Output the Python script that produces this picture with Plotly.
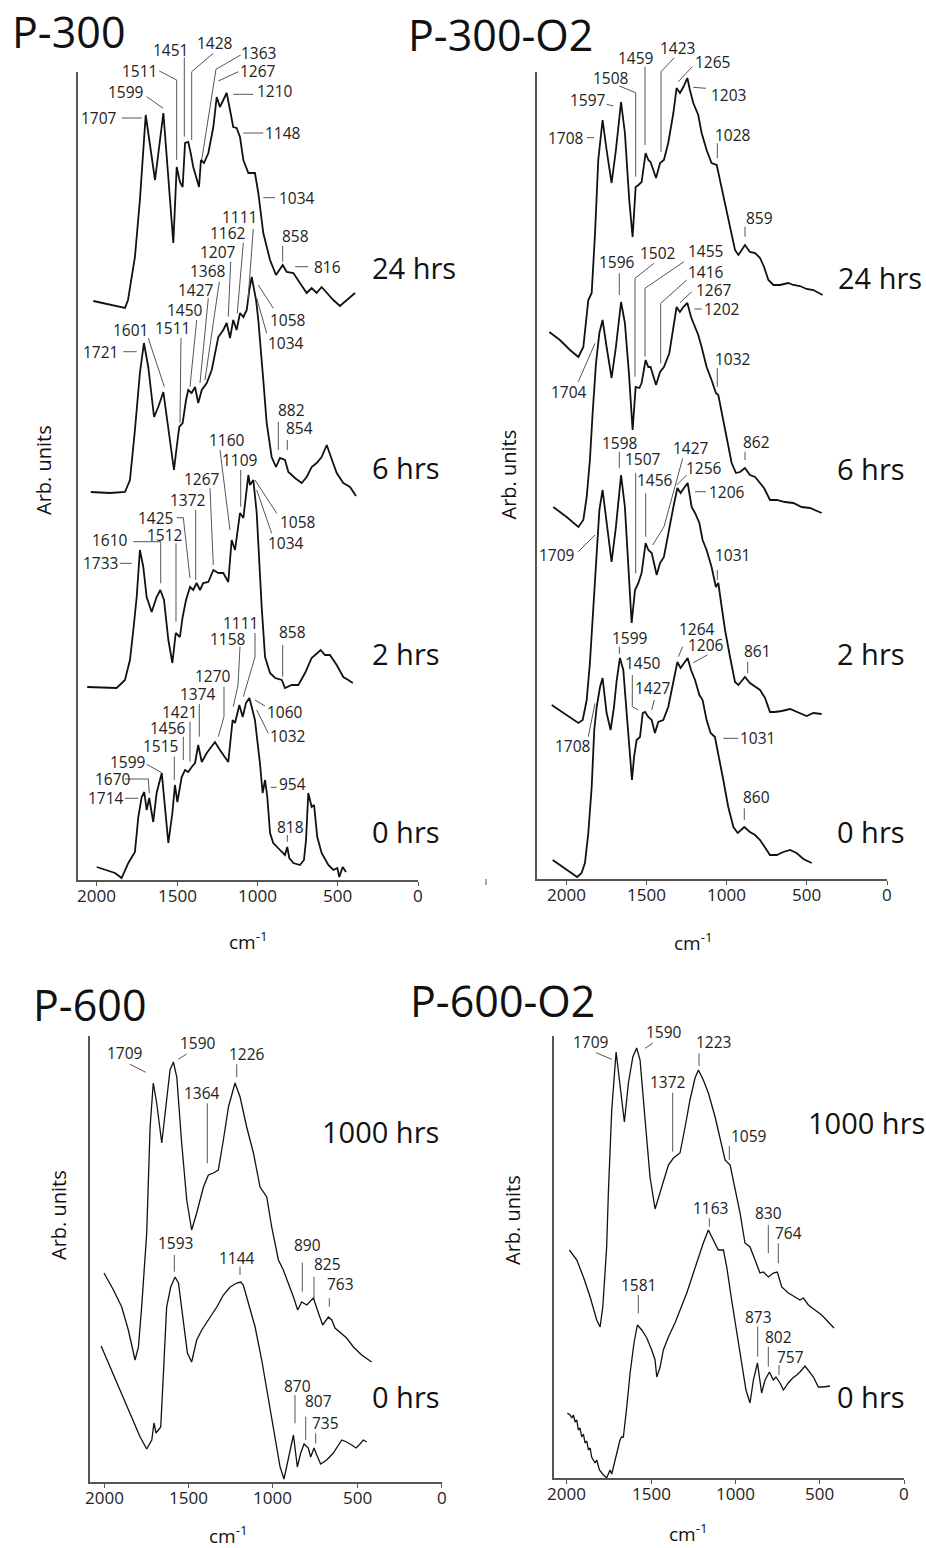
import plotly.graph_objects as go

W, H = 926, 1548
FONT = "Open Sans"

# ---------------- data (wavenumber cm-1, arbitrary units) ----------------
P300_24_WN = [2021,1824,1805,1762,1731,1695,1637,1585,1523,1502,1482,1465,1450,1430,1415,1399,1363,1351,1332,1305,1274,1253,1233,1212,1191,1170,1150,1129,1108,1087,1056,1015,994,963,921,884,842,817,776,735,693,662,631,600,573,527,486,444,392]
P300_24_Y = [579,572,580,623,680,765,700,767,637,713,698,693,737,738,727,713,693,720,717,727,753,783,773,780,787,770,753,752,743,720,707,707,687,647,620,605,615,608,607,597,587,592,587,593,588,580,574,580,587]

P300_6_WN = [2037,1917,1824,1793,1762,1731,1706,1679,1643,1617,1585,1554,1519,1502,1486,1465,1444,1430,1409,1388,1368,1346,1315,1284,1243,1212,1191,1170,1150,1129,1108,1087,1066,1050,1035,1008,994,963,942,911,884,859,828,807,766,724,693,662,631,600,568,542,506,465,423,386]
P300_6_Y = [388,387,388,400,450,507,537,513,463,473,488,453,410,433,453,457,480,490,487,493,477,490,497,510,543,550,557,542,560,550,567,563,570,590,603,580,560,500,457,423,413,422,420,408,402,397,403,413,417,423,435,423,407,397,393,384]

P300_2_WN = [2059,1876,1824,1793,1772,1751,1731,1710,1689,1658,1627,1604,1581,1554,1529,1508,1482,1465,1444,1419,1399,1378,1357,1337,1305,1274,1243,1212,1181,1160,1139,1108,1087,1056,1046,1025,1004,984,973,952,921,890,848,828,786,745,703,662,631,606,579,548,506,465,434,406]
P300_2_Y = [193,192,200,220,250,283,330,313,283,268,283,290,280,240,217,247,243,263,280,293,290,297,290,297,298,310,307,307,298,340,330,367,362,405,395,400,367,300,273,223,207,202,200,192,195,195,207,222,227,230,225,225,215,203,200,197]

P300_0_WN = [2000,1938,1886,1845,1824,1803,1762,1741,1720,1704,1689,1673,1648,1627,1595,1575,1554,1529,1513,1498,1471,1450,1430,1409,1388,1368,1346,1315,1264,1233,1181,1154,1139,1112,1091,1071,1050,1035,1015,984,967,952,938,921,901,859,828,814,801,776,735,710,697,683,662,647,627,600,558,527,502,490,469,448]
P300_0_Y = [13,10,7,2,10,17,28,63,83,88,70,82,58,87,107,73,37,67,95,78,103,110,108,113,117,135,118,127,138,130,118,160,157,175,163,177,182,173,160,117,87,100,83,47,37,30,25,33,22,17,15,20,40,87,73,75,43,27,15,10,12,3,13,8]

O2_24_WN = [2104,2038,1975,1923,1892,1861,1840,1819,1799,1772,1747,1716,1689,1657,1633,1606,1585,1566,1549,1529,1504,1487,1473,1439,1414,1390,1363,1331,1311,1290,1269,1244,1228,1207,1176,1155,1124,1093,1061,1041,1009,978,947,926,885,854,822,791,766,739,708,667,615,584,542,501,459,401]
O2_24_Y = [547,539,529,522,532,579,586,646,719,759,729,696,729,777,746,679,642,692,694,697,726,719,717,701,716,719,736,766,791,786,792,801,789,776,764,746,729,716,714,699,672,652,629,624,634,627,626,621,612,599,594,594,596,594,593,590,589,584]

O2_6_WN = [2079,1996,1923,1892,1871,1851,1834,1813,1792,1772,1747,1716,1689,1657,1633,1608,1585,1566,1543,1529,1504,1487,1473,1439,1414,1390,1356,1331,1311,1290,1269,1244,1221,1196,1176,1155,1124,1093,1066,1051,1030,999,968,941,916,885,854,822,791,766,729,687,636,584,532,480,407]
O2_6_Y = [372,362,352,359,382,419,466,516,546,559,532,501,532,577,556,506,449,492,491,496,519,512,512,494,507,512,526,552,572,567,572,576,562,552,544,532,512,499,486,484,466,439,416,406,407,411,404,402,396,391,379,379,377,376,372,371,366]

O2_2_WN = [2089,1975,1923,1896,1871,1851,1834,1819,1809,1792,1772,1747,1716,1689,1657,1633,1612,1591,1570,1549,1529,1504,1487,1466,1435,1414,1390,1363,1331,1306,1286,1265,1242,1217,1196,1169,1149,1124,1093,1066,1051,1030,1009,978,947,926,885,854,822,791,760,729,698,656,604,563,501,459,407]
O2_2_Y = [174,162,156,159,179,216,259,299,326,369,389,359,317,352,404,372,316,256,289,296,306,336,329,326,304,316,322,346,372,391,386,391,396,372,366,356,339,329,312,292,296,272,249,222,197,194,202,196,192,189,181,167,167,168,170,167,163,166,165]

O2_0_WN = [2083,2017,1965,1930,1903,1882,1861,1840,1824,1809,1788,1772,1747,1722,1701,1684,1664,1643,1622,1606,1589,1576,1560,1539,1522,1508,1487,1466,1446,1425,1394,1363,1331,1306,1286,1265,1242,1221,1196,1169,1149,1124,1099,1072,1051,1020,989,957,930,889,854,822,791,760,729,687,646,604,563,521,469]
O2_0_Y = [19,12,6,2,6,16,46,92,149,172,192,201,166,149,172,199,221,209,166,132,99,122,139,142,166,167,162,159,146,157,159,172,199,217,211,216,221,209,199,184,179,159,146,142,126,99,72,52,46,52,47,44,39,32,24,24,27,29,26,20,16]

P600_1000_WN = [2000,1944,1895,1856,1816,1796,1777,1757,1747,1727,1708,1688,1658,1629,1609,1589,1569,1540,1510,1481,1451,1411,1382,1352,1323,1293,1263,1224,1194,1155,1115,1076,1036,1007,967,938,908,878,853,829,799,760,730,705,671,651,632,602,563,523,474,415]
P600_1000_Y = [209,192,175,152,122,135,175,222,249,355,399,379,339,382,412,420,405,339,282,252,269,295,307,309,312,342,375,399,385,355,329,295,285,255,222,212,199,185,172,180,177,184,169,157,165,162,154,150,144,135,127,120]

P600_0_WN = [2017,1964,1905,1846,1786,1747,1717,1704,1692,1678,1664,1648,1629,1605,1579,1559,1534,1506,1481,1451,1421,1382,1332,1293,1253,1214,1190,1175,1145,1105,1066,1026,987,957,934,914,894,878,855,835,815,790,776,756,740,717,681,642,592,563,533,507,484,464,444]
P600_0_Y = [136,115,92,69,45,33,42,59,49,52,55,109,175,195,205,199,165,129,120,142,152,162,175,187,195,199,200,197,179,155,122,82,42,15,3,19,35,47,15,29,38,34,25,34,27,18,22,29,42,40,37,34,38,42,40]

P600O2_1000_WN = [1984,1940,1901,1861,1822,1802,1786,1772,1763,1753,1733,1707,1684,1658,1634,1608,1585,1565,1535,1506,1476,1446,1397,1367,1328,1298,1269,1239,1219,1190,1160,1120,1091,1061,1031,1002,972,943,913,883,854,834,804,775,751,725,686,646,617,597,567,528,488,449,415]
P600O2_1000_Y = [228,218,201,181,158,151,171,205,231,285,368,426,391,356,395,421,430,418,358,301,269,285,313,320,325,351,378,400,408,398,385,361,341,318,313,291,265,235,231,218,205,206,201,205,206,191,185,181,178,180,173,168,163,156,150]

P600O2_0_WN = [1996,1980,1970,1960,1950,1940,1931,1921,1911,1901,1891,1881,1871,1861,1852,1832,1822,1806,1782,1763,1743,1733,1723,1703,1684,1674,1664,1644,1624,1601,1581,1555,1525,1496,1476,1466,1446,1427,1397,1358,1328,1288,1249,1219,1190,1160,1130,1101,1071,1051,1022,992,962,937,913,893,869,844,824,798,775,759,735,715,686,660,636,617,587,557,537,508,478,439]
P600O2_0_Y = [65,63,60,63,56,58,48,50,41,44,35,37,28,30,21,15,18,8,3,0,8,4,11,25,38,41,41,71,105,135,153,148,140,128,118,101,111,128,141,155,168,185,205,221,235,248,238,228,228,211,178,145,111,88,75,98,115,85,98,106,98,101,95,88,95,100,103,106,112,106,101,91,91,92]

TICKS = [2000, 1500, 1000, 500, 0]
TICK_TEXT = ["2000", "1500", "1000", "500", "0"]

# ---------------- layout: panels (pixel geometry of each frame) ----------------
PANELS = [
    dict(name="P-300", left=78.3, right=418, top=72, bottom=880, t2000=96.7, lw=1.8,
         curves=[(P300_24_WN, P300_24_Y), (P300_6_WN, P300_6_Y), (P300_2_WN, P300_2_Y), (P300_0_WN, P300_0_Y)]),
    dict(name="P-300-O2", left=537, right=887, top=72, bottom=879, t2000=566, lw=1.8,
         curves=[(O2_24_WN, O2_24_Y), (O2_6_WN, O2_6_Y), (O2_2_WN, O2_2_Y), (O2_0_WN, O2_0_Y)]),
    dict(name="P-600", left=90, right=441.7, top=1036, bottom=1482, t2000=104, lw=1.3,
         curves=[(P600_1000_WN, P600_1000_Y), (P600_0_WN, P600_0_Y)]),
    dict(name="P-600-O2", left=554, right=904, top=1036, bottom=1478, t2000=566.7, lw=1.3,
         curves=[(P600O2_1000_WN, P600O2_1000_Y), (P600O2_0_WN, P600O2_0_Y)]),
]

# peak labels: (text, text centre px, leader polyline px)
PEAKS = [
    ("1707", 98.7, 118.3, [(121.7, 118), (141.7, 118)]),
    ("1599", 126, 91.7, [(146.7, 96.7), (163.3, 108.3)]),
    ("1511", 139.3, 71, [(159.3, 71), (176.7, 80), (176.7, 160)]),
    ("1451", 170.7, 50, [(184.3, 57.3), (184.3, 136.7)]),
    ("1428", 215, 42.7, [(213.3, 53.3), (191.7, 71.7), (191.7, 140)]),
    ("1363", 258.3, 52.7, [(240.7, 55), (216, 69.3), (201.7, 160)]),
    ("1267", 258.3, 71, [(238.3, 71.7), (218.3, 81)]),
    ("1210", 275, 90.7, [(233.3, 94.3), (253.3, 94.3)]),
    ("1148", 283.3, 133.3, [(243.3, 133), (263.3, 133)]),
    ("1034", 296.5, 197.7, [(263.3, 197.7), (275, 197.7)]),
    ("858", 295.3, 235.7, [(282.7, 246), (282.7, 261.7)]),
    ("816", 327, 266.7, [(295, 266.7), (308.3, 266.7)]),
    ("1111", 239, 217, [(253.3, 229), (248, 300)]),
    ("1162", 228.3, 233.3, [(243.3, 242.7), (237.3, 313.3)]),
    ("1207", 218.3, 251.7, [(230.7, 261.7), (228.3, 316.7)]),
    ("1368", 207.7, 271, [(219.3, 281.7), (205, 380)]),
    ("1427", 195.5, 290, [(208.3, 298.3), (200, 383)]),
    ("1450", 184.5, 310, [(196.7, 320), (190, 386.7)]),
    ("1511", 172, 328.3, [(181, 338), (180, 423)]),
    ("1601", 130, 330, [(148.3, 338.3), (164.3, 386.7)]),
    ("1721", 100.5, 351.7, [(123.3, 351.7), (136.7, 351.7)]),
    ("1058", 288.3, 320, [(258.3, 285), (273.3, 308.3)]),
    ("1034", 286, 343.3, [(256.7, 298.3), (266.7, 333.3)]),
    ("882", 291.3, 410, [(278.3, 421.7), (278.3, 450)]),
    ("854", 299, 428.3, [(287.3, 440), (287.3, 450)]),
    ("1160", 226.7, 440, [(220, 450), (230, 530)]),
    ("1109", 240, 460, [(240.7, 470), (240.7, 506.7)]),
    ("1267", 201.7, 479.3, [(210, 488.3), (213.3, 565)]),
    ("1372", 188.3, 500, [(195.7, 510), (195.7, 580)]),
    ("1425", 155, 517.7, [(176.7, 517.7), (183.3, 517.7), (190, 578)]),
    ("1512", 165, 535, [(176, 543.3), (176, 621.7)]),
    ("1610", 110, 540, [(133.3, 541.7), (160.7, 541.7), (160.7, 583.3)]),
    ("1733", 100, 563.3, [(120, 563.3), (131.7, 563.3)]),
    ("1058", 298.3, 521.7, [(255, 480), (276.7, 513.3)]),
    ("1034", 286, 543.3, [(256.7, 490), (271.7, 533.3)]),
    ("858", 292.7, 631.7, [(282.7, 645), (282.7, 676.7)]),
    ("1111", 241, 622.5, [(255, 633), (255, 657), (243.3, 696.7)]),
    ("1158", 228.3, 638.8, [(240, 646.7), (238, 685), (233.3, 706.7)]),
    ("1270", 213.3, 676, [(224, 686.7), (224, 716.7), (218.3, 736.7)]),
    ("1374", 198.3, 694, [(199.3, 704), (199.3, 736.7)]),
    ("1421", 179.3, 711.7, [(190, 721.7), (190, 761.7)]),
    ("1456", 168.3, 728.3, [(183.3, 736.7), (183.3, 760)]),
    ("1515", 160.7, 745.7, [(174.3, 756.7), (174.3, 780)]),
    ("1599", 127.7, 761.7, [(146.7, 764.3), (161.7, 772.7)]),
    ("1670", 113.3, 779, [(125, 779), (148.3, 779), (149.3, 793.3)]),
    ("1714", 106, 798.3, [(125, 798.3), (138.3, 798.3)]),
    ("1060", 285, 711.7, [(255, 700), (265, 706)]),
    ("1032", 288.3, 736, [(256.7, 710), (268.3, 733.3)]),
    ("954", 292, 784, [(270.7, 787.3), (276.7, 787.3)]),
    ("818", 290, 826.7, [(287.3, 835), (287.3, 841.7)]),
    ("1708", 565.5, 137.7, [(586.7, 137.7), (594, 137.7)]),
    ("1597", 588, 100, [(606.7, 104.3), (613.3, 106)]),
    ("1508", 610.8, 77.7, [(619.3, 86), (635.7, 92.7), (635.7, 176.7)]),
    ("1459", 635.8, 58.3, [(645, 66.7), (645, 145)]),
    ("1423", 677, 47.7, [(674.3, 57.7), (661, 71.7), (661, 151.7)]),
    ("1265", 712.8, 62.3, [(692.3, 66.7), (678.3, 81.7)]),
    ("1203", 728, 95, [(693.3, 87.3), (706, 88.3)]),
    ("1028", 732.5, 135, [(717.3, 143.3), (717.3, 158.3)]),
    ("859", 759, 218.3, [(745, 226.7), (745, 236.7)]),
    ("1596", 616.7, 261.7, [(619.3, 273.3), (619.3, 295)]),
    ("1502", 658, 253.3, [(654, 263.3), (635, 278.3), (635, 376.7)]),
    ("1455", 705.5, 250.7, [(684, 261.7), (645, 288.3), (645, 356.7)]),
    ("1416", 705.8, 271.7, [(686.7, 280), (660.7, 303.3), (660.7, 363.3)]),
    ("1267", 714, 290, [(691.7, 291.7), (680, 302.7)]),
    ("1202", 722.3, 309, [(694.3, 309), (701.7, 309)]),
    ("1704", 569, 392.3, [(578.3, 381.7), (595, 343.3)]),
    ("1032", 732.5, 359, [(717.3, 368.3), (717.3, 386.7)]),
    ("862", 756.7, 442.3, [(745, 451.7), (745, 460)]),
    ("1598", 620, 443.3, [(619.3, 451.7), (619.3, 468.3)]),
    ("1507", 642.5, 459.3, [(635.7, 473.3), (635.7, 573.3)]),
    ("1456", 655, 480, [(645.7, 493.3), (645.7, 536.7)]),
    ("1427", 690.5, 448.3, [(682.7, 458.3), (664, 526.7), (652.7, 545)]),
    ("1256", 703.7, 467.7, [(686.7, 475), (676.7, 485)]),
    ("1206", 726.7, 491.7, [(695, 491.7), (706, 491.7)]),
    ("1709", 557, 555, [(578.3, 551.7), (595, 535)]),
    ("1031", 732.5, 555, [(717.3, 570), (717.3, 580)]),
    ("861", 757.3, 650.7, [(747.7, 661.7), (747.7, 673.3)]),
    ("1599", 629.5, 638.3, [(619.3, 646.7), (619.3, 654)]),
    ("1450", 642.8, 663.3, [(632.3, 675), (632.3, 706.7), (638.3, 710)]),
    ("1427", 652.5, 688.3, [(654.3, 700), (651.7, 710)]),
    ("1264", 697.3, 629.3, [(682.7, 646.7), (678.3, 656.7)]),
    ("1206", 705.8, 645, [(707.3, 655), (693.3, 662.7)]),
    ("1708", 572.8, 746, [(588.3, 736.7), (595, 703.3)]),
    ("1031", 757, 738.3, [(723.3, 738.3), (738.3, 738.3)]),
    ("860", 756.7, 797.3, [(744.3, 808.3), (744.3, 820)]),
    ("1709", 124.7, 1053.3, [(130, 1064.3), (145.7, 1072.3)]),
    ("1590", 197.7, 1043.3, [(186.7, 1054), (178.3, 1059.3)]),
    ("1226", 247.3, 1054.3, [(236.7, 1064.3), (236.7, 1077.3)]),
    ("1364", 202.3, 1092.7, [(207.3, 1103.3), (207.3, 1163.3)]),
    ("890", 307.5, 1245, [(302.3, 1262.7), (302.3, 1291.7)]),
    ("825", 327.5, 1264.3, [(314, 1276.7), (314, 1300)]),
    ("763", 340, 1284.3, [(329.3, 1298.3), (329.3, 1306.7)]),
    ("1593", 175, 1243.3, [(174.3, 1255), (174.3, 1271.7)]),
    ("1144", 236.7, 1258.3, [(240, 1266.7), (240, 1275)]),
    ("870", 297.5, 1385.7, [(295, 1395), (295, 1423.3)]),
    ("807", 318.2, 1400.7, [(305.7, 1416.7), (305.7, 1440)]),
    ("735", 325.8, 1422.7, [(315.7, 1433.3), (315.7, 1443.3)]),
    ("1709", 590.7, 1042.3, [(596, 1052.7), (611.7, 1059.3)]),
    ("1590", 663.7, 1032.3, [(652.7, 1043.3), (645, 1048.3)]),
    ("1223", 713.3, 1042.3, [(699, 1053.3), (699, 1066)]),
    ("1372", 668.3, 1081.7, [(672.7, 1092.7), (672.7, 1151.7)]),
    ("1059", 748.7, 1135.7, [(729.3, 1146), (729.3, 1160)]),
    ("830", 768.5, 1213.3, [(768.3, 1225), (768.3, 1253.3)]),
    ("764", 788.8, 1233.3, [(778.3, 1243.3), (778.3, 1263.3)]),
    ("1163", 710, 1208.3, [(709.3, 1218.3), (709.3, 1226.7)]),
    ("1581", 638.7, 1285, [(638.3, 1295), (638.3, 1313.3)]),
    ("873", 758.3, 1317.3, [(757.7, 1326.7), (757.7, 1356.7)]),
    ("802", 778.3, 1336.7, [(768.3, 1346.7), (768.3, 1366.7)]),
    ("757", 790.5, 1356.7, [(779, 1365), (779, 1375)]),
]

TIMES = [
    ("24 hrs", 370, 267.5), ("6 hrs", 370, 467.5), ("2 hrs", 370, 653), ("0 hrs", 370, 831.7),
    ("24 hrs", 836, 277.5), ("6 hrs", 835, 468), ("2 hrs", 835, 653), ("0 hrs", 835, 831.7),
    ("1000 hrs", 320, 1131), ("0 hrs", 370, 1396.7),
    ("1000 hrs", 806, 1122.5), ("0 hrs", 835, 1396.7),
]

TITLES = [("P-300", 10, 31.7), ("P-300-O2", 406, 34), ("P-600", 31, 1004), ("P-600-O2", 408, 1000)]
YTITLES = [(43, 470), (508, 474.5), (58, 1215), (512, 1220)]
XTITLES = [(248, 941), (693, 942), (228, 1535), (688, 1533)]
TICKLABEL_GAP = 15


def fx(x):
    return x / W


def fy(y):
    return 1 - y / H


fig = go.Figure()

for i, p in enumerate(PANELS):
    suf = "" if i == 0 else str(i + 1)
    wn_left = 2000 * (p["right"] - p["left"]) / (p["right"] - p["t2000"])
    fig.update_layout({
        f"xaxis{suf}": dict(
            domain=[fx(p["left"]), fx(p["right"])], range=[wn_left, 0], anchor=f"y{suf}",
            tickvals=TICKS, ticks="outside", ticklen=4, tickwidth=1.3, showticklabels=False,
            tickcolor="#555", showline=True, linecolor="#555", linewidth=1.5,
            showgrid=False, zeroline=False,
        ),
        f"yaxis{suf}": dict(
            domain=[fy(p["bottom"]), fy(p["top"])], range=[0, p["bottom"] - p["top"]],
            anchor=f"x{suf}", showline=True, linecolor="#555", linewidth=1.5,
            showticklabels=False, ticks="", showgrid=False, zeroline=False,
        ),
    })
    for wn, yv in p["curves"]:
        fig.add_trace(go.Scatter(
            x=wn, y=yv, xaxis=f"x{suf}", yaxis=f"y{suf}", mode="lines",
            line=dict(color="#111", width=p["lw"]), showlegend=False, hoverinfo="skip",
        ))
    for tv, tt in zip(TICKS, TICK_TEXT):
        fig.add_annotation(x=tv, y=fy(p["bottom"] + TICKLABEL_GAP), xref=f"x{suf}", yref="paper",
                           text=tt, showarrow=False, xanchor="center", yanchor="middle",
                           font=dict(family=FONT, size=17, color="#222"))

shapes = []
for text, tx, ty, pts in PEAKS:
    fig.add_annotation(x=fx(tx), y=fy(ty), xref="paper", yref="paper", text=text,
                       showarrow=False, xanchor="center", yanchor="middle",
                       font=dict(family=FONT, size=15.5, color="#222"))
    path = "M " + " L ".join(f"{fx(a):.5f},{fy(b):.5f}" for a, b in pts)
    shapes.append(dict(type="path", xref="paper", yref="paper", path=path,
                       line=dict(color="#555", width=1)))

# small stray mark under the P-300-O2 frame
shapes.append(dict(type="line", xref="paper", yref="paper", x0=fx(486), x1=fx(486),
                   y0=fy(879), y1=fy(885), line=dict(color="#555", width=1)))

for text, lx, ty in TIMES:
    fig.add_annotation(x=fx(lx), y=fy(ty), xref="paper", yref="paper", text=text,
                       showarrow=False, xanchor="left", yanchor="middle",
                       font=dict(family=FONT, size=29, color="#111"))

for text, lx, ty in TITLES:
    fig.add_annotation(x=fx(lx), y=fy(ty), xref="paper", yref="paper", text=text,
                       showarrow=False, xanchor="left", yanchor="middle",
                       font=dict(family=FONT, size=43, color="#111"))

for cx, cy in YTITLES:
    fig.add_annotation(x=fx(cx), y=fy(cy), xref="paper", yref="paper", text="Arb. units",
                       showarrow=False, xanchor="center", yanchor="middle", textangle=-90,
                       font=dict(family=FONT, size=20, color="#111"))

for cx, cy in XTITLES:
    fig.add_annotation(x=fx(cx), y=fy(cy), xref="paper", yref="paper", text="cm<sup>-1</sup>",
                       showarrow=False, xanchor="center", yanchor="middle",
                       font=dict(family=FONT, size=19, color="#111"))

fig.update_layout(
    width=W, height=H, margin=dict(l=0, r=0, t=0, b=0), autosize=False,
    paper_bgcolor="white", plot_bgcolor="white", shapes=shapes, showlegend=False,
)

fig.write_html(
    "out.html",
    config={"responsive": False, "displayModeBar": False},
    post_script="document.body.style.margin='0';document.body.style.overflow='hidden';",
)
